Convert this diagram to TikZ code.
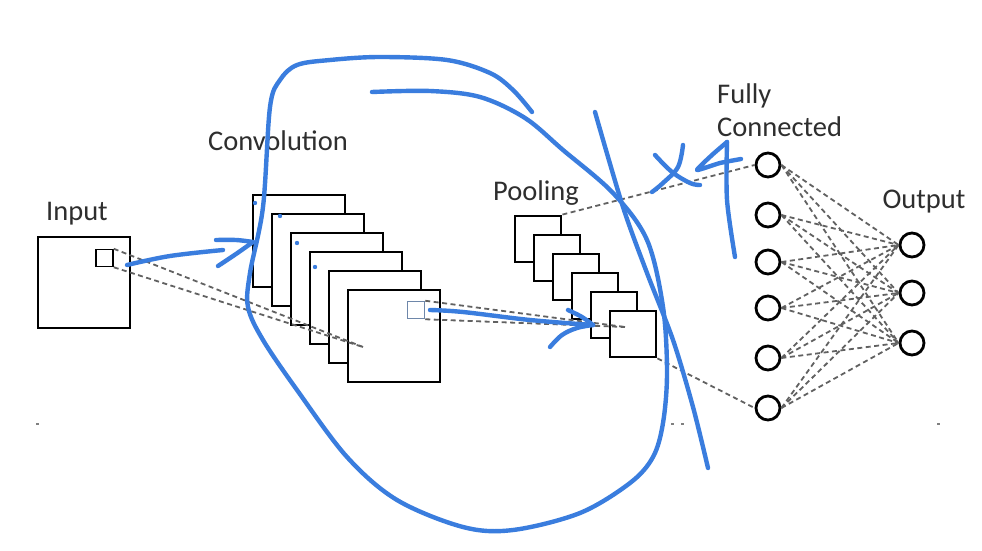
\documentclass[tikz,border=0pt]{standalone}
\usepackage{fontspec}
\setmainfont{Carlito}
\begin{document}
\begin{tikzpicture}[x=1pt,y=-1pt,
  lbl/.style={font=\fontsize{28.5}{32}\selectfont, text=black!82, inner sep=0pt},
  fmap/.style={draw=black, fill=white, line width=2.8pt, minimum width=92pt, minimum height=92pt, inner sep=0pt},
  pmap/.style={draw=black, fill=white, line width=2.8pt, minimum width=46pt, minimum height=46pt, inner sep=0pt},
  patch/.style={draw=black, line width=1.5pt, minimum width=17pt, minimum height=17pt, inner sep=0pt},
  neuron/.style={circle, draw=black, fill=white, line width=2.8pt, minimum size=24pt, inner sep=0pt},
  conn/.style={draw=black!62, line width=1.8pt, dash pattern=on 5pt off 3.5pt},
  annot/.style={draw={rgb,255:red,58;green,125;blue,222}, line width=4.4pt, line cap=round, line join=round},
  annotdot/.style={fill={rgb,255:red,58;green,125;blue,222}}
]
\useasboundingbox (0,0) rectangle (982,551);
\fill[white] (0,0) rectangle (982,551);

% labels
\node[lbl, anchor=base] (tin) at (77,220) {Input};
\node[lbl, anchor=base] (tconv) at (278,150) {Convolution};
\node[lbl, anchor=base] (tpool) at (536,200) {Pooling};
\node[lbl, anchor=base west] (tfc1) at (717,103) {Fully};
\node[lbl, anchor=base west] (tfc2) at (717,136) {Connected};
\node[lbl, anchor=base] (tout) at (924,208) {Output};

% input
\node[fmap, minimum height=91pt] (inp) at (84,282.5) {};
\node[patch] (ipatch) at (104.5,258) {};

% convolution stack
\foreach \i in {1,...,6}{
  \node[fmap] (c\i) at ({299+19*(\i-1)},{241+19*(\i-1)}) {};
}
\node[patch, draw={rgb,255:red,110;green,135;blue,170}] (cpatch) at (416,310) {};

% pooling stack
\foreach \i in {1,...,6}{
  \node[pmap] (p\i) at ({538+19*(\i-1)},{239+19*(\i-1)}) {};
}

% fully connected and output
\foreach \i/\y in {1/165,2/215,3/262,4/308,5/358,6/408}{
  \node[neuron] (f\i) at (768,\y) {};
}
\foreach \i/\y in {1/245,2/293,3/343}{
  \node[neuron] (o\i) at (912,\y) {};
}

% dashed connections
\coordinate (cfocus) at (363,347);
\coordinate (pfocus) at (625,327);
\draw[conn] (ipatch.north east) -- (cfocus);
\draw[conn] (ipatch.south east) -- (cfocus);
\draw[conn] (cpatch.north east) -- (pfocus);
\draw[conn] (cpatch.south east) -- (pfocus);
\draw[conn] (p1.north east) -- (f1.west);
\draw[conn] (p6.south east) -- (f6.west);
\foreach \i in {1,...,6}{
  \foreach \j in {1,2,3}{
    \draw[conn] (f\i.east) -- (o\j.west);
  }
}

% tiny marks at the bottom
\fill[black!50] (36,422.5) rectangle (39,424.5);
\fill[black!50] (671,423) rectangle (674,425);
\fill[black!50] (681,423) rectangle (684,425);
\fill[black!50] (937,423) rectangle (940,425);

% blue hand-drawn annotations
% arrow input -> convolution
\draw[annot] plot[smooth, tension=0.6] coordinates {(127,265) (170,256) (223,250)};
\draw[annot] plot[smooth, tension=0.6] coordinates {(216,240) (236,240) (253,242)};
\draw[annot] plot[smooth, tension=0.6] coordinates {(253,242) (236,254) (218,266)};
% dots on conv maps
\fill[annotdot] (255,203) circle (2.2pt);
\fill[annotdot] (280,216) circle (2.2pt);
\fill[annotdot] (297,243) circle (2.2pt);
\fill[annotdot] (315,267) circle (2.2pt);
% big loop
\draw[annot] plot[smooth, tension=0.55] coordinates {
  (372,92) (430,91) (480,97) (525,118) (563,150) (613,193) (647,240) (663,307)
  (667,373) (663,423) (653,457) (630,483) (580,513) (513,530) (463,527)
  (397,500) (347,457) (297,390) (263,340) (248,307) (250,273) (263,207)
  (270,107) (280,80) (297,65) (330,60) (380,57) (447,60) (490,73) (513,90) (532,112)};
% slash line
\draw[annot] plot[smooth, tension=0.5] coordinates {(595,112) (623,207) (647,273) (673,340) (693,407) (708,468)};
% arrow conv -> pooling
\draw[annot] plot[smooth, tension=0.6] coordinates {(430,310) (463,312) (530,320) (593,325)};
\draw[annot] plot[smooth, tension=0.6] coordinates {(568,310) (582,317) (593,325)};
\draw[annot] plot[smooth, tension=0.6] coordinates {(593,325) (577,328) (562,335) (550,347)};
% x4
\draw[annot] plot[smooth, tension=0.6] coordinates {(655,155) (672,172) (690,183) (700,185)};
\draw[annot] plot[smooth, tension=0.6] coordinates {(683,145) (678,167) (663,183) (652,192)};
\draw[annot] plot[smooth, tension=0.3] coordinates {(727,142) (712,155) (697,170) (720,163) (741,159)};
\draw[annot] plot[smooth, tension=0.5] coordinates {(727,142) (727,200) (735,257)};
\end{tikzpicture}
\end{document}
